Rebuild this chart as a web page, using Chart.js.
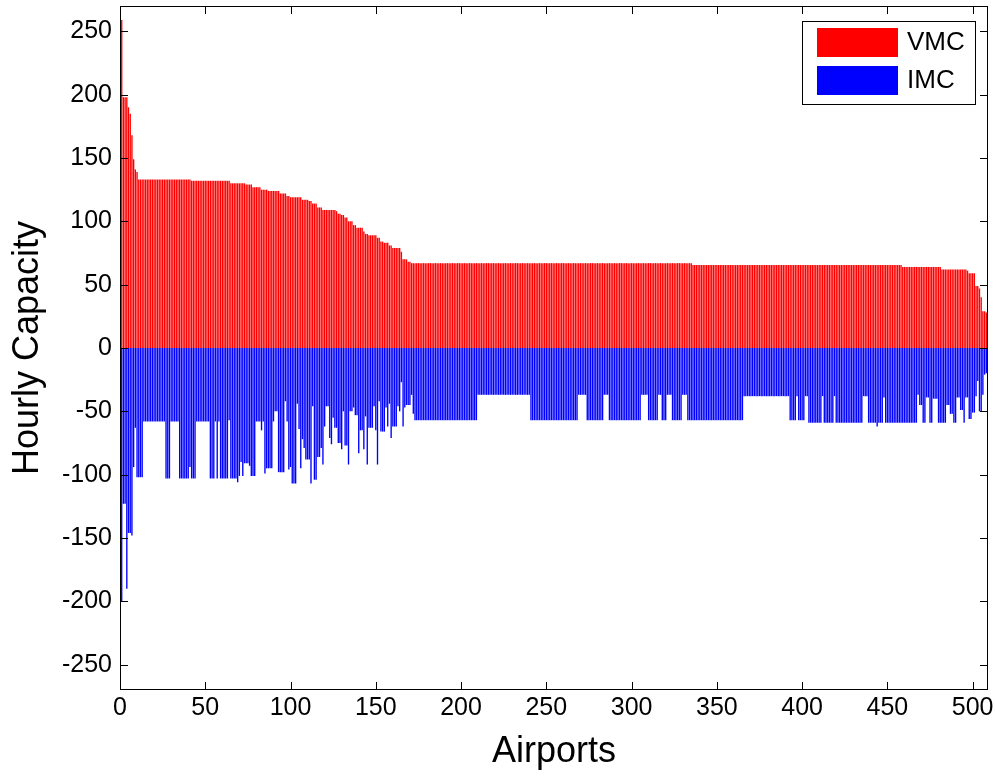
<!DOCTYPE html>
<html><head><meta charset="utf-8">
<script src="https://cdn.jsdelivr.net/npm/chart.js@4/dist/chart.umd.min.js"></script>
<style>html,body{margin:0;padding:0;background:#fff;}#wrap{width:995px;height:776px;position:relative;}</style>
</head><body><div id="wrap"><canvas id="c" width="995" height="776"></canvas></div>
<script>
// ---- data (runs of [value, number of consecutive airports]) ----
const seriesNames = ['VMC', 'IMC'];
const xTickValues = [0, 50, 100, 150, 200, 250, 300, 350, 400, 450, 500];
const yTickValues = [-250, -200, -150, -100, -50, 0, 50, 100, 150, 200, 250];
const vmcRuns = [[259,1],[198,3],[190,1],[185,1],[168,1],[149,1],[141,1],[139,1],[133,31],[132,23],[130,9],[129,4],[127,5],[125,4],[124,7],[122,4],[120,2],[119,7],[117,4],[116,2],[114,3],[111,3],[109,8],[108,1],[106,2],[105,2],[103,2],[100,3],[97,2],[95,4],[92,1],[90,2],[89,5],[87,2],[84,2],[83,3],[81,2],[79,5],[76,1],[70,3],[68,2],[67,165],[65.5,123],[64,23],[62,15],[61,1],[59,4],[49,2],[47,1],[40,1],[29,2],[28,1]];
const imcRuns = [[-200,1],[-123,2],[-190,1],[-146,2],[-148,1],[-94,1],[-63,1],[-102,4],[-58,13],[-103,3],[-58,5],[-103,6],[-94,1],[-103,3],[-58,8],[-103,3],[-58,1],[-103,1],[-58,1],[-103,5],[-57,1],[-103,4],[-106,1],[-101,1],[-90,1],[-101,1],[-91,3],[-93,1],[-101,3],[-58,3],[-65,1],[-58,1],[-99,1],[-95,4],[-58,1],[-50,2],[-98,4],[-42,1],[-58,1],[-96,1],[-94,1],[-107,3],[-44,1],[-64,1],[-95,1],[-72,1],[-79,1],[-88,3],[-107,1],[-46,1],[-104,2],[-86,2],[-79,1],[-92,1],[-62,1],[-46,2],[-71,1],[-76,1],[-55,1],[-63,2],[-75,2],[-80,1],[-50,1],[-77,2],[-92,1],[-50,2],[-47,1],[-53,2],[-83,1],[-65,2],[-80,1],[-54,1],[-92,1],[-63,3],[-46,1],[-65,1],[-92,1],[-42,1],[-66,3],[-47,1],[-62,1],[-44,1],[-71,1],[-62,3],[-46,1],[-50,1],[-27,1],[-62,1],[-47,1],[-45,3],[-37,1],[-52,1],[-57,37],[-37,31],[-57,28],[-37,5],[-57,10],[-37,3],[-57,19],[-37,4],[-57,6],[-37,2],[-57,3],[-37,3],[-57,6],[-37,3],[-57,33],[-38,27],[-57,4],[-38,1],[-57,4],[-38,2],[-59,8],[-38,1],[-59,6],[-38,1],[-59,16],[-38,3],[-59,5],[-62,1],[-59,3],[-39,1],[-59,19],[-37,1],[-45,2],[-59,2],[-39,2],[-59,2],[-40,3],[-59,5],[-45,2],[-52,2],[-59,2],[-39,2],[-49,2],[-59,1],[-39,2],[-56,2],[-51,2],[-38,1],[-26,1],[-50,2],[-37,1],[-21,1],[-20,1]];

function expandRuns(runs) {
  const out = [];
  for (const [v, n] of runs) for (let k = 0; k < n; k++) out.push(v);
  return out;
}
const vmc = expandRuns(vmcRuns);
const imc = expandRuns(imcRuns);
const airports = vmc.map((_, i) => i + 1);

const FONT = '"Liberation Sans", Arial, Helvetica, sans-serif';

const framePlugin = {
  id: 'frame',
  afterDraw(chart) {
    const { ctx, chartArea: { left, right, top, bottom }, scales: { x, y } } = chart;
    ctx.save();
    ctx.strokeStyle = '#000';
    ctx.lineWidth = 1;
    ctx.beginPath();
    const tl = 8;
    xTickValues.forEach(t => {
      const px = Math.round(x.getPixelForValue(t)) + 0.5;
      ctx.moveTo(px, bottom); ctx.lineTo(px, bottom - tl);
      ctx.moveTo(px, top); ctx.lineTo(px, top + tl);
    });
    yTickValues.forEach(t => {
      const py = Math.round(y.getPixelForValue(t)) + 0.5;
      ctx.moveTo(left, py); ctx.lineTo(left + tl, py);
      ctx.moveTo(right, py); ctx.lineTo(right - tl, py);
    });
    ctx.stroke();
    ctx.strokeRect(left + 0.5, top + 0.5, right - left - 1, bottom - top - 1);

    // legend box
    const lx = 802, ly = 21, lw = 173, lh = 83;
    ctx.fillStyle = '#fff';
    ctx.fillRect(lx, ly, lw, lh);
    ctx.strokeRect(lx + 0.5, ly + 0.5, lw, lh);
    ctx.font = '26px ' + FONT;
    ctx.textBaseline = 'middle';
    ctx.textAlign = 'left';
    chart.data.datasets.forEach((ds, i) => {
      const sy = 28 + i * 38;
      ctx.fillStyle = ds.backgroundColor;
      ctx.fillRect(817, sy, 81, 29);
      ctx.fillStyle = '#000';
      ctx.fillText(ds.label, 907, sy + 15);
    });
    ctx.restore();
  }
};

new Chart(document.getElementById('c'), {
  type: 'bar',
  data: {
    datasets: [
      { label: seriesNames[0], data: airports.map((a, i) => ({ x: a, y: vmc[i] })), backgroundColor: '#ff0000', grouped: false, barPercentage: 0.8, categoryPercentage: 1 },
      { label: seriesNames[1], data: airports.map((a, i) => ({ x: a, y: imc[i] })), backgroundColor: '#0000ff', grouped: false, barPercentage: 0.8, categoryPercentage: 1 }
    ]
  },
  options: {
    responsive: false,
    animation: false,
    devicePixelRatio: 1,
    layout: { padding: { left: 0, right: 7, top: 6, bottom: 0 } },
    plugins: { legend: { display: false }, tooltip: { enabled: false } },
    scales: {
      x: {
        type: 'linear', min: 0, max: 509, offset: false,
        grid: { display: false, drawTicks: false },
        border: { display: false },
        ticks: { padding: 3, color: '#000', font: { size: 25, family: FONT }, maxRotation: 0, autoSkip: false },
        afterBuildTicks(s) { s.ticks = xTickValues.map(v => ({ value: v })); },
        afterFit(s) { s.height = 86; s.paddingLeft = 0; s.paddingRight = 0; },
        title: { display: true, text: 'Airports', color: '#000', font: { size: 36, family: FONT }, padding: { top: 0, bottom: 2 } }
      },
      y: {
        type: 'linear', min: -270, max: 270,
        grid: { display: false, drawTicks: false },
        border: { display: false },
        ticks: { padding: 8, color: '#000', font: { size: 25, family: FONT }, autoSkip: false },
        afterBuildTicks(s) { s.ticks = yTickValues.map(v => ({ value: v })); },
        afterFit(s) { s.width = 120; s.paddingTop = 0; s.paddingBottom = 0; },
        title: { display: true, text: 'Hourly Capacity', color: '#000', font: { size: 36, family: FONT }, padding: { top: 6, bottom: 0 } }
      }
    }
  },
  plugins: [framePlugin]
});
</script>
</body></html>
